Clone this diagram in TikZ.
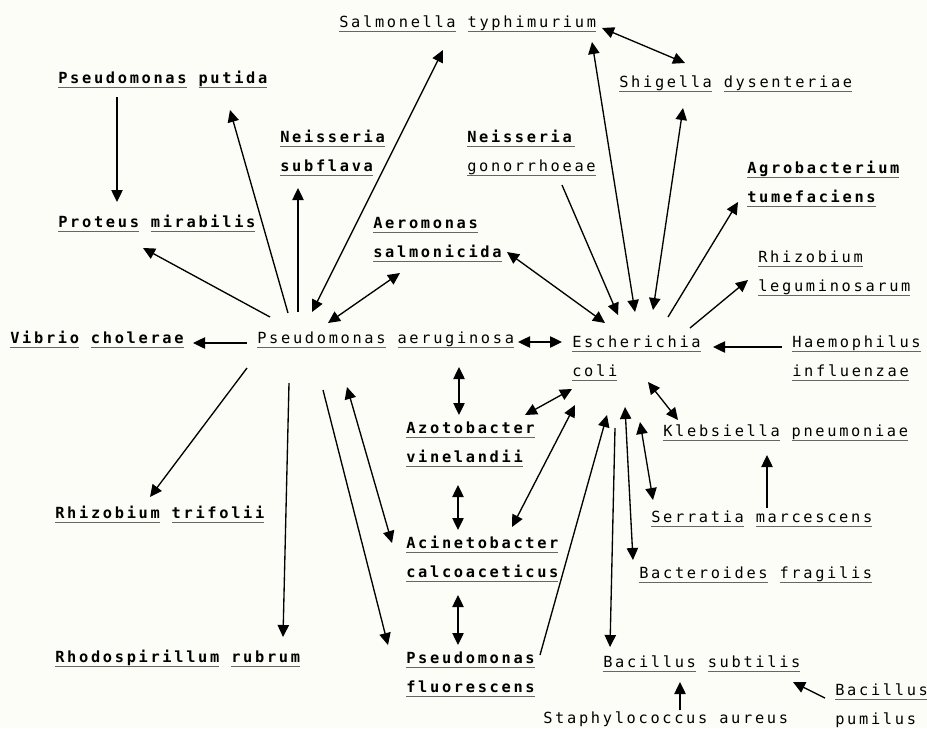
\documentclass[tikz,border=0pt]{standalone}
\usepackage{fontspec}
\usepackage{xcolor}
\usepackage{tikz}
\usetikzlibrary{arrows.meta}
\newfontfamily\dotfont[LetterSpace=17.5]{DejaVu Sans Mono}
\definecolor{paper}{RGB}{253,253,247}
\newcommand{\uw}[1]{\setbox0=\hbox{#1}\rlap{\color{black!60}\rule[-3.4pt]{\wd0}{0.55pt}}\box0\relax}
\newcommand{\two}[2]{\vtop{\hbox{#1}\hbox{#2}}}

\begin{document}
\begin{tikzpicture}[
  x=0.75pt, y=-0.75pt,
  sp/.style  ={font=\dotfont\fontsize{11.5}{22}\selectfont, inner sep=0pt, anchor=base west},
  spb/.style ={sp, font=\dotfont\bfseries\fontsize{11.5}{22}\selectfont},
  arr/.style ={-{Triangle[length=9pt,width=8.5pt]}, line width=1pt},
  darr/.style={{Triangle[length=9pt,width=8.5pt]}-{Triangle[length=9pt,width=8.5pt]}, line width=1pt}
]
\path[use as bounding box, fill=paper] (0,0) rectangle (927,728);
% left half
\node[sp]  (salm) at (339,27)  {\uw{Salmonella} \uw{typhimurium}};
\node[spb] (pput) at (58,83)   {\uw{Pseudomonas} \uw{putida}};
\node[spb] (nsub) at (280,142) {\two{\uw{Neisseria}}{\uw{subflava}}};
\node[spb] (prot) at (58,227)  {\uw{Proteus} \uw{mirabilis}};
\node[spb] (aero) at (373,228) {\two{\uw{Aeromonas}}{\uw{salmonicida}}};
\node[spb] (vib)  at (10,343)  {\uw{Vibrio} \uw{cholerae}};
\node[sp]  (paer) at (257,343) {\uw{Pseudomonas} \uw{aeruginosa}};
\node[spb] (rtri) at (55,518)  {\uw{Rhizobium} \uw{trifolii}};
\node[spb] (rrub) at (55,662)  {\uw{Rhodospirillum} \uw{rubrum}};
\node[spb] (azot) at (406,433) {\two{\uw{Azotobacter}}{\uw{vinelandii}}};
\node[spb] (acin) at (406,548) {\two{\uw{Acinetobacter}}{\uw{calcoaceticus}}};
\node[spb] (pflu) at (406,663) {\two{\uw{Pseudomonas}}{\uw{fluorescens}}};
% right half
\node[sp]  (shig) at (619,87)  {\uw{Shigella} \uw{dysenteriae}};
\node[sp]  (ngon) at (467,142) {\two{\uw{\textbf{Neisseria}}}{\uw{gonorrhoeae}}};
\node[spb] (agro) at (747,173) {\two{\uw{Agrobacterium}}{\uw{tumefaciens}}};
\node[sp]  (rleg) at (758,262) {\two{\uw{Rhizobium}}{\uw{leguminosarum}}};
\node[sp]  (eco)  at (572,347) {\two{\uw{Escherichia}}{\uw{coli}}};
\node[sp]  (haem) at (792,347) {\two{\uw{Haemophilus}}{\uw{influenzae}}};
\node[sp]  (kleb) at (663,436) {\uw{Klebsiella} \uw{pneumoniae}};
\node[sp]  (serr) at (651,522) {\uw{Serratia} \uw{marcescens}};
\node[sp]  (bact) at (639,578) {\uw{Bacteroides} \uw{fragilis}};
\node[sp]  (bsub) at (603,667) {\uw{Bacillus} \uw{subtilis}};
\node[sp]  (stap) at (543,723) {Staphylococcus aureus};
\node[sp]  (bpum) at (835,695) {\two{\uw{Bacillus}}{pumilus}};
% connectors around P. aeruginosa
\draw[arr]  ([shift={(59,14)}]pput.base west) -- ([shift={(59,-25)}]prot.base west);
\draw[arr]  ([shift={(13,-26)}]paer.base west) -- ([shift={(85,21)}]prot.base west);
\draw[arr]  ([shift={(31,-30)}]paer.base west) -- ([shift={(172,27)}]pput.base west);
\draw[arr]  ([shift={(41,-31)}]paer.base west) -- ([shift={(18,46)}]nsub.base west);
\draw[darr] ([shift={(55,-31)}]paer.base west) -- ([shift={(104,23)}]salm.base west);
\draw[darr] ([shift={(71,-20)}]paer.base west) -- ([shift={(27,45)}]aero.base west);
\draw[arr]  ([shift={(-10,0)}]paer.base west) -- ([shift={(183,0)}]vib.base west);
\draw[darr] ([shift={(261,-1)}]paer.base west) -- ([shift={(-10,-5)}]eco.base west);
\draw[arr]  ([shift={(-10,25)}]paer.base west) -- ([shift={(95,-21)}]rtri.base west);
\draw[arr]  ([shift={(32,40)}]paer.base west) -- ([shift={(228,-25)}]rrub.base west);
\draw[darr] ([shift={(90,44)}]paer.base west) -- ([shift={(-14,-5)}]acin.base west);
\draw[arr]  ([shift={(66,47)}]paer.base west) -- ([shift={(-18,-18)}]pflu.base west);
\draw[darr] ([shift={(202,24)}]paer.base west) -- ([shift={(53,-18)}]azot.base west);
\draw[darr] ([shift={(52,52)}]azot.base west) -- ([shift={(52,-18)}]acin.base west);
\draw[darr] ([shift={(52,47)}]acin.base west) -- ([shift={(52,-18)}]pflu.base west);
% connectors around E. coli
\draw[darr] ([shift={(263,1)}]salm.base west) -- ([shift={(66,-24)}]shig.base west);
\draw[darr] ([shift={(253,15)}]salm.base west) -- ([shift={(63,-35)}]eco.base west);
\draw[darr] ([shift={(64,21)}]shig.base west) -- ([shift={(81,-37)}]eco.base west);
\draw[arr]  ([shift={(95,43)}]ngon.base west) -- ([shift={(46,-32)}]eco.base west);
\draw[arr]  ([shift={(96,-30)}]eco.base west) -- ([shift={(-9,29)}]agro.base west);
\draw[arr]  ([shift={(118,-19)}]eco.base west) -- ([shift={(-10,18)}]rleg.base west);
\draw[darr] ([shift={(134,24)}]aero.base west) -- ([shift={(33,-24)}]eco.base west);
\draw[arr]  ([shift={(-10,0)}]haem.base west) -- ([shift={(141,0)}]eco.base west);
\draw[darr] ([shift={(0,42)}]eco.base west) -- ([shift={(119,-18)}]azot.base west);
\draw[darr] ([shift={(3,58)}]eco.base west) -- ([shift={(106,-21)}]acin.base west);
\draw[arr]  ([shift={(134,-8)}]pflu.base west) -- ([shift={(35,68)}]eco.base west);
\draw[arr]  ([shift={(43,81)}]eco.base west) -- ([shift={(7,-20)}]bsub.base west);
\draw[darr] ([shift={(53,60)}]eco.base west) -- ([shift={(-6,-18)}]bact.base west);
\draw[darr] ([shift={(68,75)}]eco.base west) -- ([shift={(2,-22)}]serr.base west);
\draw[darr] ([shift={(76,35)}]eco.base west) -- ([shift={(15,-16)}]kleb.base west);
\draw[arr]  ([shift={(116,-14)}]serr.base west) -- ([shift={(104,19)}]kleb.base west);
\draw[arr]  ([shift={(137,-13)}]stap.base west) -- ([shift={(77,15)}]bsub.base west);
\draw[arr]  ([shift={(-10,3)}]bpum.base west) -- ([shift={(190,15)}]bsub.base west);
\end{tikzpicture}
\end{document}
